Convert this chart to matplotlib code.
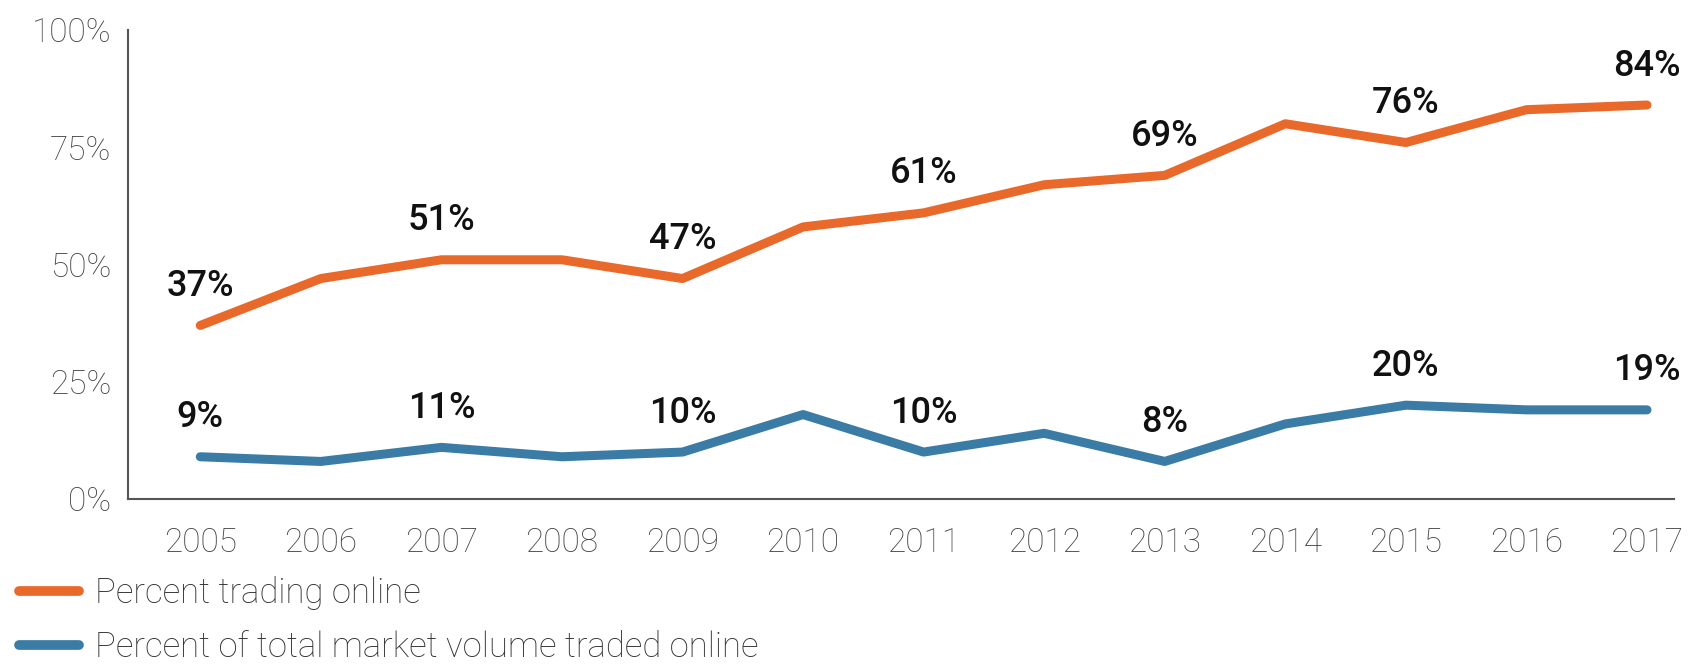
import matplotlib.pyplot as plt
from matplotlib.ticker import FuncFormatter

# values
years = [2005, 2006, 2007, 2008, 2009, 2010, 2011, 2012, 2013, 2014, 2015, 2016, 2017]
trading_online = [37, 47, 51, 51, 47, 58, 61, 67, 69, 80, 76, 83, 84]
volume_online = [9, 8, 11, 9, 10, 18, 10, 14, 8, 16, 20, 19, 19]
labelled_years = [2005, 2007, 2009, 2011, 2013, 2015, 2017]

orange = "#E8692A"
blue = "#3A7CA5"
grey = "#555555"

plt.rcParams['font.family'] = ['Roboto', 'DejaVu Sans']

fig = plt.figure(figsize=(16.99, 6.66), dpi=100)
ax = fig.add_axes([0.0753, 0.2508, 0.9097, 0.7042])

ax.plot(years, trading_online, color=orange, lw=6.5, solid_capstyle='round',
        label="Percent trading online")
ax.plot(years, volume_online, color=blue, lw=6.5, solid_capstyle='round',
        label="Percent of total market volume traded online")

for series in (trading_online, volume_online):
    for yr, val in zip(years, series):
        if yr in labelled_years:
            ax.annotate(f"{val}%", (yr, val), xytext=(0, 28), textcoords="offset points",
                        ha="center", va="center", fontsize=26, color="#111111",
                        fontweight="medium")

ax.set_xlim(2004.40, 2017.22)
ax.set_ylim(0, 100)
ax.set_xticks(years)
ax.set_yticks([0, 25, 50, 75, 100])
ax.yaxis.set_major_formatter(FuncFormatter(lambda v, p: f"{v:.0f}%"))

for s in ("top", "right"):
    ax.spines[s].set_visible(False)
for s in ("left", "bottom"):
    ax.spines[s].set_color(grey)
    ax.spines[s].set_linewidth(1.5)

ax.tick_params(axis="both", length=0, labelsize=24, labelcolor="#444444")
ax.tick_params(axis="x", pad=20)
ax.tick_params(axis="y", pad=12)
for lbl in ax.get_xticklabels() + ax.get_yticklabels():
    lbl.set_fontweight("light")

leg = fig.legend(loc="upper left", bbox_to_anchor=(0.011, 0.135), frameon=False,
                 fontsize=25, handlelength=1.75, handletextpad=0.45, labelspacing=0.6,
                 borderpad=0, borderaxespad=0, labelcolor="#333333")
for t in leg.get_texts():
    t.set_fontweight("light")
for h in leg.get_lines():
    h.set_linewidth(7)

fig.savefig("out.png", dpi=100)
